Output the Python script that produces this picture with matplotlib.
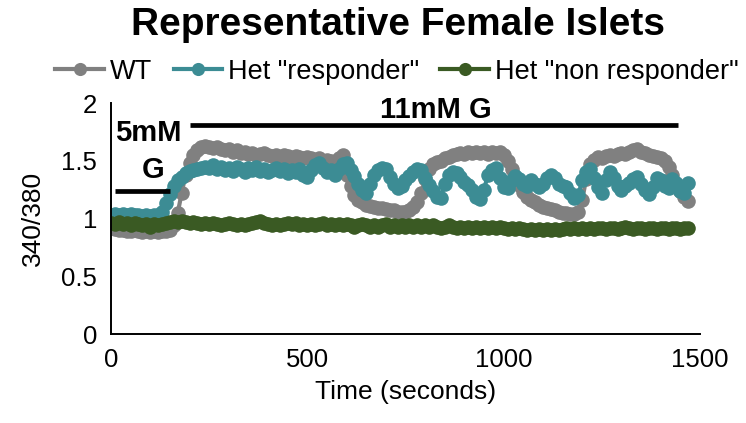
import numpy as np
import matplotlib
matplotlib.use("Agg")
import matplotlib.pyplot as plt

plt.rcParams['font.family'] = ['Liberation Sans', 'DejaVu Sans']

# sampling times (s), one reading every 10 s
time = np.arange(0, 1480, 10)

wt = [0.92, 0.91, 0.90, 0.90, 0.89, 0.89, 0.90, 0.89, 0.88, 0.89,
      0.88, 0.89, 0.88, 0.89, 0.89, 0.90, 0.94, 1.05, 1.22, 1.38,
      1.48, 1.55, 1.59, 1.62, 1.63, 1.62, 1.61, 1.62, 1.60, 1.59,
      1.60, 1.58, 1.59, 1.57, 1.58, 1.56, 1.57, 1.55, 1.56, 1.57,
      1.55, 1.54, 1.55, 1.53, 1.55, 1.54, 1.52, 1.54, 1.53, 1.52,
      1.53, 1.52, 1.51, 1.52, 1.50, 1.51, 1.50, 1.49, 1.52, 1.55,
      1.38, 1.28, 1.20, 1.16, 1.14, 1.12, 1.11, 1.10, 1.09, 1.09,
      1.08, 1.07, 1.07, 1.06, 1.06, 1.06, 1.07, 1.10, 1.14, 1.22,
      1.34, 1.43, 1.47, 1.49, 1.50, 1.52, 1.53, 1.55, 1.56, 1.57,
      1.56, 1.58, 1.57, 1.58, 1.57, 1.58, 1.56, 1.58, 1.57, 1.58,
      1.55, 1.50, 1.43, 1.36, 1.29, 1.23, 1.19, 1.16, 1.14, 1.12,
      1.10, 1.09, 1.08, 1.07, 1.06, 1.05, 1.05, 1.04, 1.04, 1.06,
      1.16, 1.34, 1.47, 1.51, 1.53, 1.52, 1.54, 1.55, 1.54, 1.56,
      1.57, 1.56, 1.58, 1.59, 1.60, 1.58, 1.57, 1.55, 1.54, 1.53,
      1.52, 1.50, 1.45, 1.38, 1.30, 1.24, 1.19, 1.15]

het_resp = [1.03, 1.04, 1.03, 1.04, 1.03, 1.04, 1.03, 1.03, 1.02, 1.03,
            1.02, 1.03, 1.03, 1.06, 1.13, 1.21, 1.28, 1.33, 1.36, 1.39,
            1.41, 1.42, 1.43, 1.44, 1.45, 1.44, 1.46, 1.43, 1.45, 1.42,
            1.44, 1.41, 1.45, 1.43, 1.40, 1.44, 1.42, 1.45, 1.41, 1.43,
            1.40, 1.42, 1.44, 1.41, 1.43, 1.39, 1.42, 1.40, 1.43, 1.38,
            1.36, 1.42, 1.46, 1.48, 1.44, 1.40, 1.42, 1.38, 1.43, 1.47,
            1.48, 1.42, 1.37, 1.30, 1.25, 1.22, 1.30, 1.38, 1.42, 1.44,
            1.43, 1.36, 1.30, 1.26, 1.28, 1.33, 1.37, 1.40, 1.43, 1.42,
            1.35, 1.29, 1.24, 1.19, 1.18, 1.30, 1.38, 1.40, 1.39, 1.36,
            1.32, 1.29, 1.25, 1.19, 1.17, 1.25, 1.38, 1.42, 1.44, 1.35,
            1.27, 1.26, 1.33, 1.37, 1.34, 1.30, 1.28, 1.33, 1.30, 1.27,
            1.30, 1.35, 1.38, 1.35, 1.30, 1.28, 1.27, 1.22, 1.18, 1.20,
            1.33, 1.40, 1.43, 1.35, 1.27, 1.22, 1.33, 1.40, 1.35, 1.28,
            1.25, 1.28, 1.31, 1.34, 1.36, 1.30, 1.25, 1.21, 1.27, 1.35,
            1.33, 1.28, 1.26, 1.34, 1.31, 1.24, 1.22, 1.31]

het_non = [0.96, 0.95, 0.97, 0.95, 0.96, 0.94, 0.96, 0.95, 0.94, 0.95,
           0.93, 0.95, 0.94, 0.95, 0.96, 0.97, 0.98, 0.97, 0.98, 0.97,
           0.96, 0.97, 0.96, 0.95, 0.96, 0.95, 0.96, 0.95, 0.94, 0.95,
           0.96, 0.95, 0.94, 0.95, 0.94, 0.95, 0.96, 0.97, 0.98, 0.96,
           0.95, 0.94, 0.95, 0.94, 0.95, 0.96, 0.95, 0.96, 0.94, 0.95,
           0.94, 0.95, 0.94, 0.95, 0.96, 0.94, 0.95, 0.94, 0.95, 0.94,
           0.95, 0.94, 0.93, 0.94, 0.95, 0.94, 0.93, 0.94, 0.93, 0.94,
           0.95, 0.93, 0.94, 0.93, 0.94, 0.93, 0.94, 0.93, 0.94, 0.93,
           0.94, 0.93, 0.94, 0.93, 0.92, 0.93, 0.94, 0.93, 0.92, 0.93,
           0.92, 0.93, 0.92, 0.93, 0.92, 0.93, 0.92, 0.93, 0.92, 0.93,
           0.92, 0.91, 0.92, 0.91, 0.92, 0.91, 0.90, 0.91, 0.90, 0.91,
           0.90, 0.91, 0.90, 0.91, 0.90, 0.91, 0.92, 0.91, 0.92, 0.91,
           0.92, 0.91, 0.92, 0.91, 0.92, 0.92, 0.91, 0.92, 0.92, 0.91,
           0.92, 0.93, 0.92, 0.91, 0.92, 0.92, 0.91, 0.92, 0.92, 0.91,
           0.92, 0.92, 0.91, 0.92, 0.92, 0.91, 0.92, 0.92]

# glucose bars: (start, end, level)
bar_5mm = [10, 150, 1.235]
bar_11mm = [200, 1445, 1.81]

fig = plt.figure(figsize=(7.46, 4.23), dpi=100)
ax = fig.add_axes([0.1488, 0.2104, 0.7895, 0.5461])

ax.plot(time, wt, color='#808080', lw=3, marker='o', ms=10.5, mew=0, label='WT')
ax.plot(time, het_resp, color='#3c8c94', lw=3, marker='o', ms=10.5, mew=0,
        label='Het "responder"')
ax.plot(time, het_non, color='#3a5a23', lw=3, marker='o', ms=10.5, mew=0,
        label='Het "non responder"')

# stimulus bars and labels
ax.plot(bar_5mm[:2], [bar_5mm[2]] * 2, color='black', lw=3.4, solid_capstyle='butt')
ax.plot(bar_11mm[:2], [bar_11mm[2]] * 2, color='black', lw=3.4, solid_capstyle='butt')
ax.text(94, 1.74, '5mM', ha='center', va='center', fontsize=21, fontweight='bold')
ax.text(106, 1.42, 'G', ha='center', va='center', fontsize=21, fontweight='bold')
ax.text(828, 1.94, '11mM G', ha='center', va='center', fontsize=21, fontweight='bold')

ax.set_xlim(0, 1500)
ax.set_ylim(0, 2)
ax.set_xticks([0, 500, 1000, 1500])
ax.set_yticks([0, 0.5, 1, 1.5, 2])
ax.set_yticklabels(['0', '0.5', '1', '1.5', '2'])
ax.tick_params(length=0, labelsize=18.5, pad=10)
for s in ['top', 'right']:
    ax.spines[s].set_visible(False)
for s in ['left', 'bottom']:
    ax.spines[s].set_linewidth(1.4)

ax.set_xlabel('Time (seconds)', fontsize=19, labelpad=6)
ax.set_ylabel('340/380', fontsize=19, labelpad=12)

fig.text(0.533, 0.94, 'Representative Female Islets', ha='center', va='center',
         fontsize=28, fontweight='bold')
fig.legend(loc='center', bbox_to_anchor=(0.532, 0.83), ncol=3, frameon=False,
           fontsize=19.5, handlelength=1.8, handletextpad=0.2, columnspacing=0.8,
           borderaxespad=0, markerscale=0.9)

fig.savefig('out.png', dpi=100)
